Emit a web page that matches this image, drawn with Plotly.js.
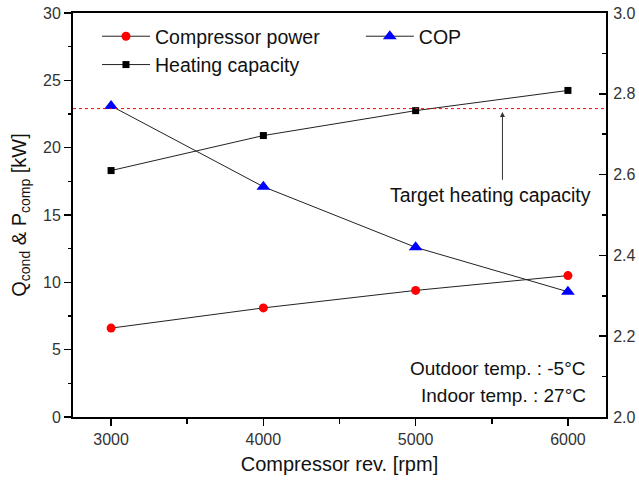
<!DOCTYPE html>
<html>
<head>
<meta charset="utf-8">
<script src="https://cdn.plot.ly/plotly-3.0.1.min.js"></script>
<style>html,body{margin:0;padding:0;background:#fff;}#chart{width:639px;height:481px;}</style>
</head>
<body>
<div id="chart"></div>
<script>
// ---- data ----
const rpm = [3000, 4000, 5000, 6000];
const compressorPower = [6.6, 8.1, 9.4, 10.5];
const heatingCapacity = [18.3, 20.9, 22.75, 24.25];
const cop = [2.77, 2.57, 2.42, 2.31];
const targetHeating = 22.9;
const seriesNames = ['Compressor power', 'Heating capacity', 'COP'];

const FONT = '"Liberation Sans", Arial, Helvetica, sans-serif';
const lineStyle = {color: '#222', width: 1};

const traces = [
  {x: rpm, y: compressorPower, name: seriesNames[0], type: 'scatter', mode: 'lines+markers',
   line: lineStyle, marker: {symbol: 'circle', size: 9, color: '#ff0000'}, legend: 'legend'},
  {x: rpm, y: heatingCapacity, name: seriesNames[1], type: 'scatter', mode: 'lines+markers',
   line: lineStyle, marker: {symbol: 'square', size: 7, color: '#000'}, legend: 'legend'},
  {x: rpm, y: cop, name: seriesNames[2], type: 'scatter', mode: 'lines+markers', yaxis: 'y2',
   line: lineStyle, marker: {symbol: 'triangle-up', size: 12, color: '#0000ff'}, legend: 'legend2'}
];

const layout = {
  width: 639, height: 481,
  margin: {l: 73, r: 33, t: 13, b: 64},
  paper_bgcolor: '#fff', plot_bgcolor: '#fff',
  font: {family: FONT, color: '#222', size: 16},
  showlegend: true,
  xaxis: {
    range: [2750, 6250], tickvals: rpm, ticktext: rpm.map(String),
    showgrid: false, zeroline: false, showline: true, linecolor: '#000', linewidth: 2, mirror: true,
    ticks: 'outside', ticklen: 7, tickwidth: 1.5, tickcolor: '#000',
    minor: {dtick: 500, tick0: 2500, ticks: 'outside', ticklen: 5, tickwidth: 1.5, tickcolor: '#000'},
    tickfont: {size: 16, color: '#333'},
    title: {text: 'Compressor rev. [rpm]', font: {size: 20, color: '#111'}, standoff: 10}
  },
  yaxis: {
    range: [0, 30], dtick: 5, tick0: 0,
    showgrid: false, zeroline: false, showline: true, linecolor: '#000', linewidth: 2,
    ticks: 'outside', ticklen: 7, tickwidth: 1.5, tickcolor: '#000',
    minor: {dtick: 2.5, ticks: 'outside', ticklen: 3, tickwidth: 1.5, tickcolor: '#000'},
    tickfont: {size: 16, color: '#333'},
    title: {text: 'Q<sub>cond</sub> & P<sub>comp</sub> [kW]', font: {size: 20, color: '#111'}, standoff: 11}
  },
  yaxis2: {
    range: [2.0, 3.0], dtick: 0.2, tick0: 2.0, tickformat: '.1f',
    overlaying: 'y', side: 'right',
    showgrid: false, zeroline: false, showline: true, linecolor: '#000', linewidth: 2,
    ticks: 'inside', ticklen: 7, tickwidth: 1.5, tickcolor: '#000',
    minor: {dtick: 0.1, ticks: 'inside', ticklen: 4, tickwidth: 1.5, tickcolor: '#000'},
    tickfont: {size: 16, color: '#333'}, ticklabelstandoff: 2
  },
  legend: {
    x: 0.045, y: 0.99, xanchor: 'left', yanchor: 'top',
    bgcolor: 'rgba(0,0,0,0)', font: {size: 19.5, color: '#111'},
    itemwidth: 48, tracegroupgap: 0
  },
  legend2: {
    x: 0.54, y: 0.99, xanchor: 'left', yanchor: 'top',
    bgcolor: 'rgba(0,0,0,0)', font: {size: 19.5, color: '#111'},
    itemwidth: 48
  },
  shapes: [
    {type: 'line', xref: 'paper', x0: 0, x1: 1, yref: 'y', y0: targetHeating, y1: targetHeating,
     line: {color: '#ff0000', width: 1, dash: 'dot'}}
  ],
  annotations: [
    {xref: 'x', yref: 'y', x: 5570, y: 22.65, axref: 'x', ayref: 'y', ax: 5570, ay: 17.5,
     text: '', showarrow: true, arrowhead: 2, arrowsize: 1, arrowwidth: 1, arrowcolor: '#333'},
    {xref: 'x', yref: 'y', x: 5490, y: 16.5, text: 'Target heating capacity', showarrow: false,
     xanchor: 'center', yanchor: 'middle', font: {size: 19.5, color: '#111'}},
    {xref: 'paper', yref: 'paper', x: 0.966, y: 0.119, text: 'Outdoor temp. : -5°C', showarrow: false,
     xanchor: 'right', yanchor: 'middle', font: {size: 19, color: '#111'}},
    {xref: 'paper', yref: 'paper', x: 0.966, y: 0.054, text: 'Indoor temp. : 27°C', showarrow: false,
     xanchor: 'right', yanchor: 'middle', font: {size: 19, color: '#111'}}
  ]
};

Plotly.newPlot('chart', traces, layout, {displayModeBar: false, staticPlot: true});
</script>
</body>
</html>
